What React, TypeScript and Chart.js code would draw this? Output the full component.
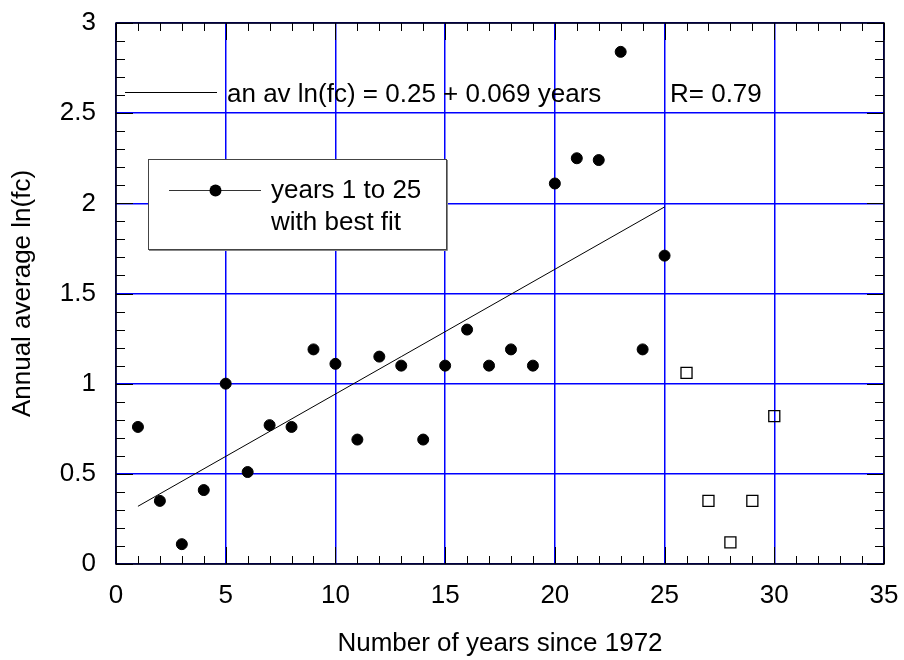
import { useEffect, useRef } from "react";
import { Chart, registerables } from "chart.js";

Chart.register(...registerables);

// ---- data ----
const fitYears = [1, 2, 3, 4, 5, 6, 7, 8, 9, 10, 11, 12, 13, 14, 15, 16, 17, 18, 19, 20, 21, 22, 23, 24, 25];
const fitLnFc = [0.76, 0.35, 0.11, 0.41, 1.0, 0.51, 0.77, 0.76, 1.19, 1.11, 0.69, 1.15, 1.1, 0.69, 1.1, 1.3, 1.1, 1.19, 1.1, 2.11, 2.25, 2.24, 2.84, 1.19, 1.71];
const laterYears = [26, 27, 28, 29, 30];
const laterLnFc = [1.06, 0.35, 0.12, 0.35, 0.82];
const trendYears = [1, 25];
const trendLnFc = [0.32, 1.98];

const xMin = 0;
const xMax = 35;
const xMajorStep = 5;
const xMinorCount = 35; // minor ticks every 1 year
const yMin = 0;
const yMax = 3;
const yMajorStep = 0.5;
const yMinorCount = 30; // minor ticks every 0.1

const xTitle = "Number of years since 1972";
const yTitle = "Annual average ln(fc)";
const fitText = "an av ln(fc) = 0.25 + 0.069 years";
const rText = "R= 0.79";
const legendLines = ["years 1 to 25", "with best fit"];

const FONT_FAMILY = '"Liberation Sans", Arial, Helvetica, sans-serif';
const GRID_BLUE = "rgb(0,0,255)";

const framePlugin = {
  id: "frameTicks",
  afterDatasetsDraw(chart: any) {
    const { ctx, chartArea: a, scales } = chart;
    const xs = scales.x;
    const ys = scales.y;
    ctx.save();
    ctx.strokeStyle = "#000";
    ctx.lineWidth = 1;
    ctx.beginPath();
    for (let i = 0; i <= xMinorCount; i++) {
      const v = xMin + ((xMax - xMin) * i) / xMinorCount;
      const px = Math.round(xs.getPixelForValue(v)) + 0.5;
      const major = Math.abs(v / xMajorStep - Math.round(v / xMajorStep)) < 1e-6;
      const len = major ? 17 : 8;
      ctx.moveTo(px, a.bottom);
      ctx.lineTo(px, a.bottom - len);
      ctx.moveTo(px, a.top);
      ctx.lineTo(px, a.top + len);
    }
    for (let i = 0; i <= yMinorCount; i++) {
      const v = yMin + ((yMax - yMin) * i) / yMinorCount;
      const py = Math.round(ys.getPixelForValue(v)) + 0.5;
      const major = Math.abs(v / yMajorStep - Math.round(v / yMajorStep)) < 1e-6;
      const len = major ? 17 : 9;
      ctx.moveTo(a.left, py);
      ctx.lineTo(a.left + len, py);
      ctx.moveTo(a.right, py);
      ctx.lineTo(a.right - len, py);
    }
    ctx.stroke();
    ctx.lineWidth = 1.5;
    ctx.strokeRect(Math.round(a.left), Math.round(a.top), Math.round(a.width), Math.round(a.height));
    ctx.restore();
  },
  afterDraw(chart: any) {
    const { ctx, chartArea: a } = chart;
    ctx.save();
    ctx.font = `26px ${FONT_FAMILY}`;
    ctx.fillStyle = "#000";
    ctx.textBaseline = "alphabetic";
    ctx.textAlign = "left";

    // fit equation annotation
    ctx.strokeStyle = "#000";
    ctx.lineWidth = 1;
    ctx.beginPath();
    ctx.moveTo(a.left + 9, a.top + 69.5);
    ctx.lineTo(a.left + 101, a.top + 69.5);
    ctx.stroke();
    ctx.fillText(fitText, a.left + 111, a.top + 79);
    ctx.fillText(rText, a.left + 554, a.top + 79);

    // legend box
    const bx = a.left + 32;
    const by = a.top + 136;
    const bw = 298;
    const bh = 90;
    ctx.fillStyle = "#fff";
    ctx.fillRect(bx, by, bw, bh);
    ctx.strokeStyle = "#444";
    ctx.lineWidth = 1;
    ctx.strokeRect(bx + 0.5, by + 0.5, bw, bh);
    ctx.strokeStyle = "#888";
    ctx.beginPath();
    ctx.moveTo(bx + bw + 1.5, by + 1);
    ctx.lineTo(bx + bw + 1.5, by + bh + 1.5);
    ctx.lineTo(bx + 1, by + bh + 1.5);
    ctx.stroke();

    const ly = by + 31.5;
    ctx.strokeStyle = "#333";
    ctx.beginPath();
    ctx.moveTo(bx + 21, ly);
    ctx.lineTo(bx + 113, ly);
    ctx.stroke();
    ctx.fillStyle = "#000";
    ctx.beginPath();
    ctx.arc(bx + 67.5, ly, 6, 0, Math.PI * 2);
    ctx.fill();
    ctx.fillText(legendLines[0], bx + 123, by + 39);
    ctx.fillText(legendLines[1], bx + 123, by + 71);
    ctx.restore();
  },
};

export default function App() {
  const canvasRef = useRef<HTMLCanvasElement | null>(null);

  useEffect(() => {
    if (!canvasRef.current) return;
    const tickFont = { family: FONT_FAMILY, size: 26 };
    const chart = new Chart(canvasRef.current, {
      type: "scatter",
      data: {
        datasets: [
          {
            label: "years 1 to 25 with best fit",
            data: fitYears.map((x, i) => ({ x, y: fitLnFc[i] })),
            pointStyle: "circle",
            pointRadius: 5.5,
            backgroundColor: "#000",
            borderColor: "#000",
            borderWidth: 1,
          },
          {
            label: "years 26 to 30",
            data: laterYears.map((x, i) => ({ x, y: laterLnFc[i] })),
            pointStyle: "rect",
            pointRadius: 7.8,
            backgroundColor: "rgba(255,255,255,0)",
            borderColor: "#000",
            borderWidth: 1.3,
          },
          {
            label: "best fit",
            data: trendYears.map((x, i) => ({ x, y: trendLnFc[i] })),
            showLine: true,
            pointRadius: 0,
            borderColor: "#000",
            borderWidth: 1,
            fill: false,
          } as any,
        ],
      },
      options: {
        animation: false,
        responsive: true,
        maintainAspectRatio: false,
        layout: { padding: { top: 23, right: 20, left: 0, bottom: 0 } },
        plugins: {
          legend: { display: false },
          tooltip: { enabled: false },
        },
        scales: {
          x: {
            type: "linear",
            min: xMin,
            max: xMax,
            ticks: { stepSize: xMajorStep, font: tickFont, color: "#000", padding: 16, maxRotation: 0, autoSkip: false },
            grid: { color: GRID_BLUE, lineWidth: 1.5, drawTicks: false },
            border: { display: false },
            title: { display: true, text: xTitle, font: tickFont, color: "#000", padding: { top: 0, bottom: 1 } },
            afterFit: (s: any) => {
              s.height = 96;
              s.paddingLeft = 0;
              s.paddingRight = 0;
            },
          },
          y: {
            type: "linear",
            min: yMin,
            max: yMax,
            ticks: {
              stepSize: yMajorStep,
              font: tickFont,
              color: "#000",
              padding: 20,
              callback: (v: any) => String(Number(v)),
            },
            grid: { color: GRID_BLUE, lineWidth: 1.5, drawTicks: false },
            border: { display: false },
            title: { display: true, text: yTitle, font: tickFont, color: "#000", padding: { top: 7, bottom: 0 } },
            afterFit: (s: any) => {
              s.width = 116;
              s.paddingTop = 0;
              s.paddingBottom = 0;
            },
          },
        },
      },
      plugins: [framePlugin],
    });
    return () => chart.destroy();
  }, []);

  return (
    <div style={{ position: "absolute", left: 0, top: 0, width: 904, height: 660, background: "#fff" }}>
      <canvas ref={canvasRef} />
    </div>
  );
}
